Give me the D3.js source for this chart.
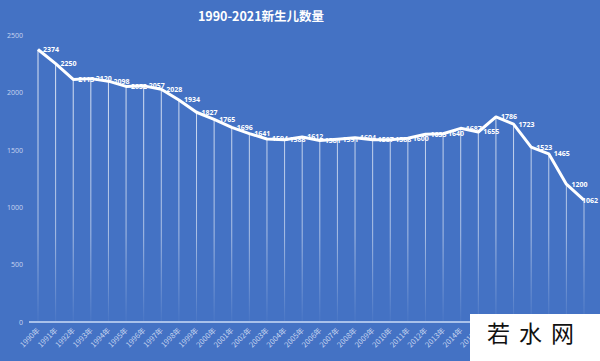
<!DOCTYPE html>
<html>
<head>
<meta charset="utf-8">
<script src="https://cdn.jsdelivr.net/npm/d3@7/dist/d3.min.js"></script>
<style>
  html, body { margin: 0; padding: 0; background: #4472c4; }
  svg { display: block; }
</style>
</head>
<body>
<svg id="chart" width="600" height="361"></svg>
<script>
// data
var years = [1990,1991,1992,1993,1994,1995,1996,1997,1998,1999,2000,2001,2002,2003,2004,2005,
             2006,2007,2008,2009,2010,2011,2012,2013,2014,2015,2016,2017,2018,2019,2020,2021];
var births = [2374,2250,2113,2120,2098,2052,2057,2028,1934,1827,1765,1696,1641,1594,1588,1612,
              1581,1591,1604,1587,1588,1600,1635,1640,1687,1655,1786,1723,1523,1465,1200,1062];
var yTicks = [0,500,1000,1500,2000,2500];
var title = '1990-2021新生儿数量';

var svg = d3.select('#chart');
var W = 600, H = 361;

svg.append('rect').attr('width', W).attr('height', H).attr('fill', '#4472c4');

var x = d3.scalePoint().domain(years).range([38, 584]);
var y = d3.scaleLinear().domain([0, 2500]).range([322, 35]);

var rows = years.map(function(yr, i) { return {year: yr, v: births[i]}; });

// title
svg.append('text')
    .attr('x', 261).attr('y', 21)
    .attr('text-anchor', 'middle')
    .attr('fill', '#ffffff')
    .attr('font-family', '"Noto Sans CJK SC", "Noto Sans", sans-serif')
    .attr('font-weight', 'bold')
    .attr('font-size', 12.5)
    .text(title);

// y axis labels (no line)
var yAxis = svg.append('g').attr('transform', 'translate(23,0)')
    .call(d3.axisLeft(y).tickValues(yTicks).tickSize(0).tickPadding(0).tickFormat(d3.format('d')));
yAxis.select('.domain').remove();
yAxis.selectAll('text')
    .attr('fill', '#c8d6f0')
    .attr('font-family', '"Open Sans", sans-serif')
    .attr('font-size', 7);

// fading drop lines
var grad = svg.append('defs').append('linearGradient')
    .attr('id', 'drop').attr('gradientUnits', 'userSpaceOnUse')
    .attr('x1', 0).attr('x2', 0).attr('y1', 40).attr('y2', 318);
grad.append('stop').attr('offset', '0%').attr('stop-color', '#ffffff').attr('stop-opacity', 0.85);
grad.append('stop').attr('offset', '70%').attr('stop-color', '#ffffff').attr('stop-opacity', 0.55);
grad.append('stop').attr('offset', '100%').attr('stop-color', '#ffffff').attr('stop-opacity', 0.05);

svg.append('g').selectAll('line').data(rows).enter().append('line')
    .attr('x1', function(d) { return x(d.year); })
    .attr('x2', function(d) { return x(d.year); })
    .attr('y1', function(d) { return y(d.v); })
    .attr('y2', y(0))
    .attr('stroke', 'url(#drop)')
    .attr('stroke-width', 1);

// baseline
svg.append('line')
    .attr('x1', 29).attr('x2', 600)
    .attr('y1', y(0)).attr('y2', y(0))
    .attr('stroke', '#a9c1ea').attr('stroke-width', 2);

// x labels
var xAxis = svg.append('g').attr('transform', 'translate(0,' + (y(0) + 7) + ')')
    .call(d3.axisBottom(x).tickSize(0).tickPadding(0).tickFormat(function(d) { return d + '年'; }));
xAxis.select('.domain').remove();
xAxis.selectAll('text')
    .attr('fill', '#c8d6f0')
    .attr('font-family', '"Noto Sans CJK SC", sans-serif')
    .attr('font-size', 7.5)
    .attr('text-anchor', 'end')
    .attr('dy', '0.35em')
    .attr('transform', 'rotate(-45)');

// line
var line = d3.line()
    .x(function(d) { return x(d.year); })
    .y(function(d) { return y(d.v); });

svg.append('path').datum(rows)
    .attr('d', line)
    .attr('fill', 'none')
    .attr('stroke', '#ffffff')
    .attr('stroke-width', 3)
    .attr('stroke-linejoin', 'round');

// value labels
svg.append('g').selectAll('text').data(rows).enter().append('text')
    .attr('x', function(d) { return Math.min(x(d.year) + 5, 582); })
    .attr('y', function(d) { return y(d.v); })
    .attr('dy', '0.35em')
    .attr('fill', '#ffffff')
    .attr('font-family', '"Open Sans", sans-serif')
    .attr('font-weight', 'bold')
    .attr('font-size', 7)
    .text(function(d) { return d.v; });

// watermark box in the corner
var wm = svg.append('g');
wm.append('rect').attr('x', 470).attr('y', 314).attr('width', 130).attr('height', 47).attr('fill', '#ffffff');
wm.append('text')
    .attr('x', 535).attr('y', 342)
    .attr('text-anchor', 'middle')
    .attr('fill', '#111111')
    .attr('font-family', '"Noto Sans CJK SC", sans-serif')
    .attr('font-size', 23)
    .attr('letter-spacing', 9)
    .text('若水网');
</script>
</body>
</html>
